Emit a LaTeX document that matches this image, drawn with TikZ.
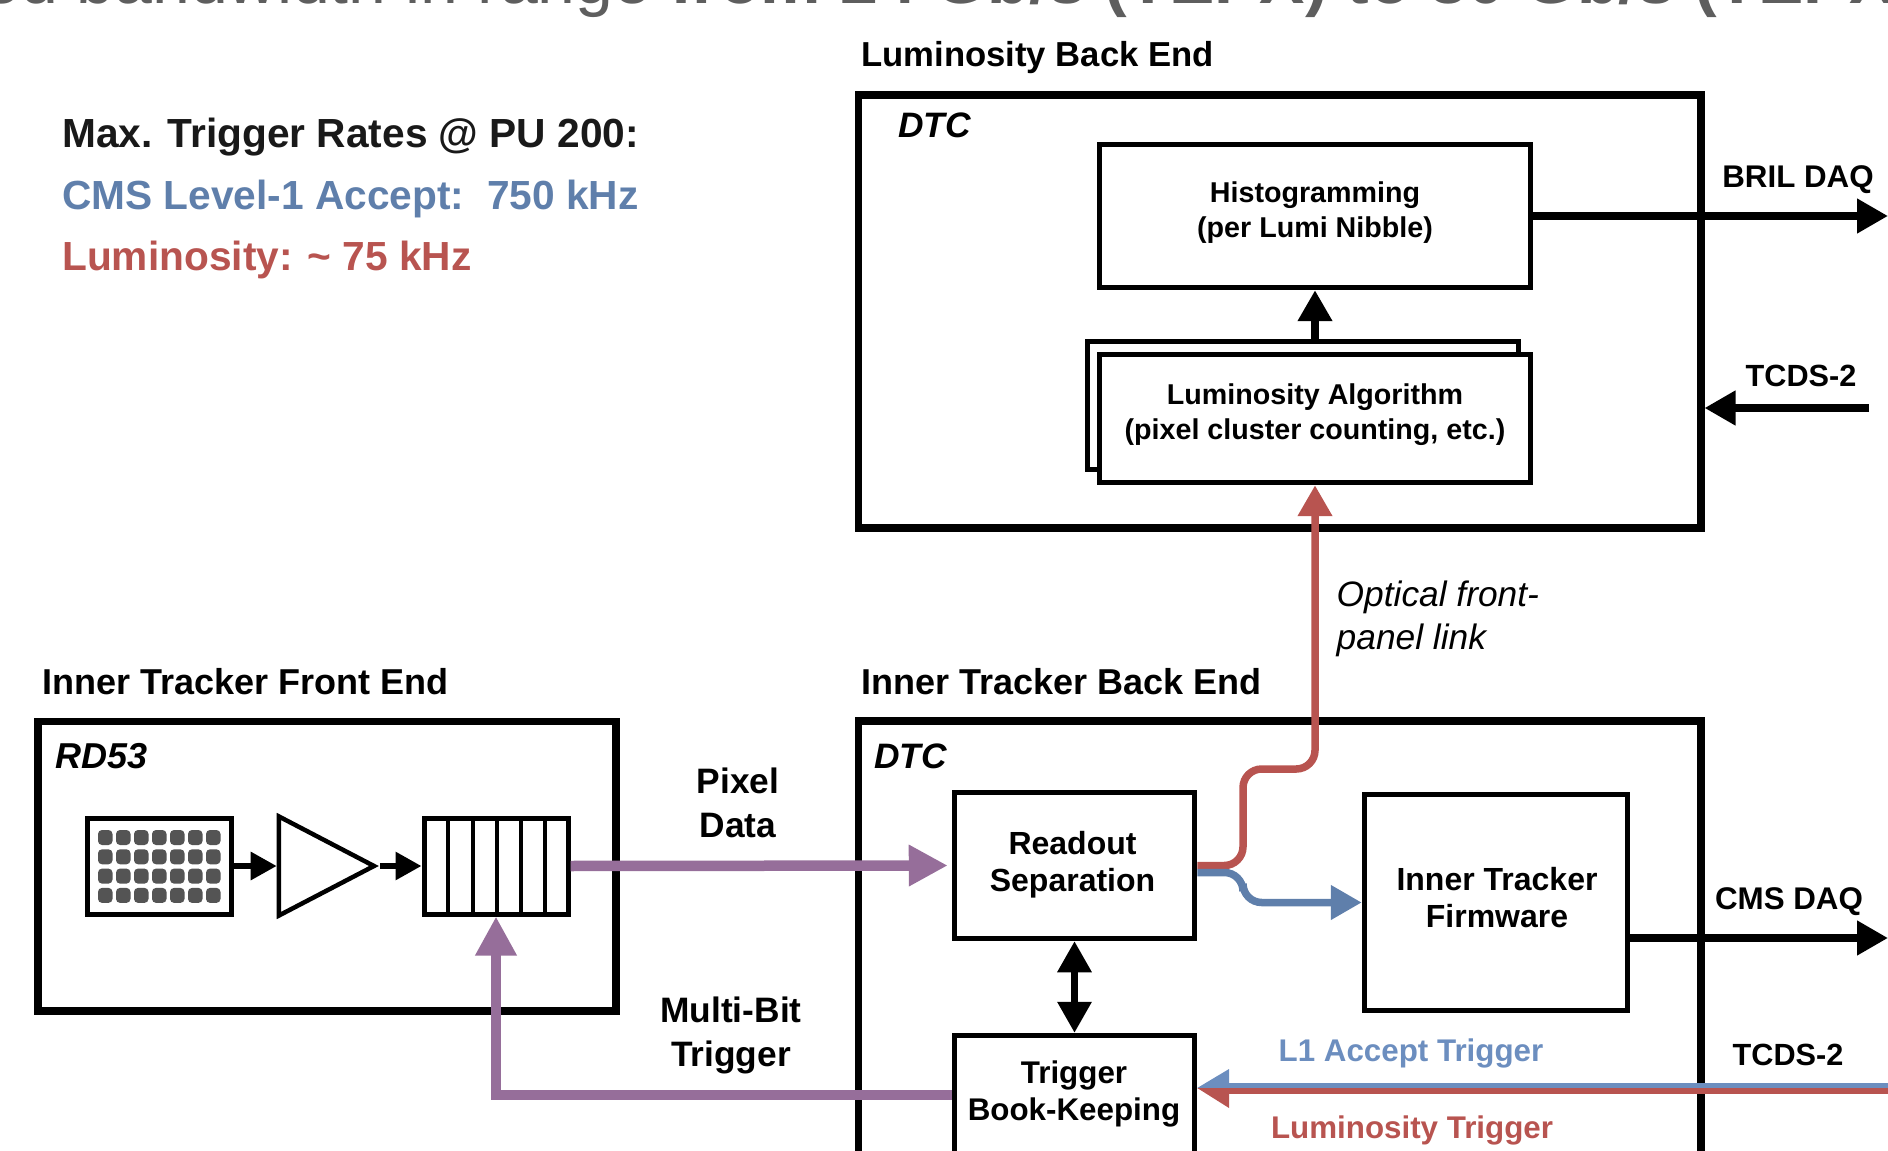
\documentclass[tikz,border=0pt]{standalone}
\usepackage{fontspec}
\setmainfont{Liberation Sans}
\usepackage{xcolor}
\definecolor{colPurple}{HTML}{966E9A}
\definecolor{colRed}{HTML}{B85450}
\definecolor{colBlue}{HTML}{5F7FAB}
\definecolor{colBlueLight}{HTML}{6C8EBF}
\definecolor{colGrey}{HTML}{5E5E5E}
\usetikzlibrary{arrows.meta, positioning, calc, shapes.geometric}
\newcommand{\px}{0.75pt}
\newcommand{\sized}[2]{\fontsize{#1}{#2}\selectfont}
\tikzset{
	crate/.style={draw, line width=7.5*\px, inner sep=0pt},
	modbox/.style={draw, line width=5.5*\px, inner sep=0pt, align=center, fill=white},
	chipbox/.style={draw, line width=5*\px, inner sep=0pt, minimum width=144*\px, minimum height=96*\px, fill=white},
	headlabel/.style={anchor=base west, inner sep=0pt, font=\sized{27}{30}\bfseries},
	sidelabel/.style={anchor=base west, inner sep=0pt, font=\sized{26.5}{30}\bfseries\itshape},
	linklabel/.style={align=center, font=\sized{26.5}{33}\bfseries},
	ratelabel/.style={anchor=base west, inner sep=0pt, font=\sized{30.5}{36}\bfseries},
	portlabel/.style={font=\sized{23.5}{28}\bfseries},
	tcdslabel/.style={font=\sized{23}{28}\bfseries},
	bigarr/.style={-{Triangle[length=23.25pt,width=24.75pt]}, line width=7.5*\px},
	smallarr/.style={-{Triangle[length=19.5pt,width=20.25pt]}, line width=6*\px},
	fatarr/.style={-{Triangle[length=29.25pt,width=29.25pt]}, line width=10.5*\px, colPurple},
}

\begin{document}
\begin{tikzpicture}[x=\px, y=-\px, >=Stealth]
	\clip (0,0) rectangle (1888,1151);

	% Cut-off title line
	\node[anchor=base west, inner sep=0pt, text=colGrey, font=\sized{51}{60}] (title) at (-18,4) {ed bandwidth in range \textbf{from 24 Gb/s (TEPX) to 80 Gb/s (TEPX)}};

	% Rates
	\node[ratelabel, text=black!90] (ratehead) at (62,148) {Max. Trigger Rates @ PU 200:};
	\node[ratelabel, text=colBlue] (ratel1) at (62,210) {CMS Level-1 Accept:\ \ 750 kHz};
	\node[ratelabel, text=colRed] (ratelumi) at (62,271) {Luminosity: \textasciitilde{} 75 kHz};

	% Luminosity back end
	\node[crate, minimum width=842.5*\px, minimum height=432.5*\px] (lumidtc) at (1279.5,311.5) {};
	\node[headlabel, font=\sized{26}{30}\bfseries] (lumihead) at (861,67) {Luminosity Back End};
	\node[sidelabel] (lumitag) at (898,138) {DTC};
	\node[modbox, minimum width=431*\px, minimum height=143*\px] (hist) at (1315,216) {};
	\node[font=\sized{21.5}{26.25}\bfseries, align=center] (histtext) at (1315,213) {Histogramming\\(per Lumi Nibble)};
	\node[modbox, minimum width=431*\px, minimum height=128*\px] (algoback) at (1303,405.5) {};
	\node[modbox, minimum width=431*\px, minimum height=128*\px] (algo) at (1315,418.5) {};
	\node[font=\sized{21.5}{26.25}\bfseries, align=center] (algotext) at (1315,414.5) {Luminosity Algorithm\\(pixel cluster counting, etc.)};
	\draw[bigarr] (hist.south |- algoback.north) -- (hist.south);
	\coordinate (brilout) at (1888,216);
	\draw[bigarr] (hist.east) -- (brilout);
	\node[portlabel] (brillabel) at (1798,179.5) {BRIL DAQ};
	\coordinate (lumitcds) at (1869,408);
	\draw[bigarr] (lumitcds) -- (lumidtc.east |- lumitcds);
	\node[tcdslabel] (lumitcdslabel) at (1801,376) {TCDS-2};

	% Inner tracker front end
	\node[crate, minimum width=578*\px, minimum height=289.5*\px] (rd53) at (327,866) {};
	\node[headlabel] (fronthead) at (42,694) {Inner Tracker Front End};
	\node[sidelabel, font=\sized{27}{30}\bfseries\itshape] (frontag) at (55,768) {RD53};
	\node[chipbox] (matrix) at (159,866) {};
	\foreach \col in {0,...,6} {
		\foreach \row in {0,...,3} {
			\fill[black!67, rounded corners=3pt] ({98+18*\col},{830+19.3*\row}) rectangle ++(14.5,15);
		}
	}
	\node[draw, line width=4.5*\px, isosceles triangle, isosceles triangle stretches, inner sep=0pt, minimum width=99*\px, minimum height=95*\px, anchor=center] (amp) at (309,866) {};
	\node[chipbox] (fifo) at (496,866) {};
	\foreach \xdiv in {448,473,497,521,545} {
		\draw[line width=4*\px] (\xdiv,818) -- (\xdiv,914);
	}
	\draw[smallarr] (matrix.east) -- (amp.west);
	\draw[smallarr] (amp.east) -- (fifo.west);

	% Inner tracker back end
	\node[crate, minimum width=842.5*\px, minimum height=700*\px] (itdtc) at (1279.5,1071) {};
	\node[headlabel] (backhead) at (861,694) {Inner Tracker Back End};
	\node[sidelabel] (backtag) at (874,768) {DTC};
	\node[modbox, minimum width=240*\px, minimum height=146*\px] (readout) at (1074.5,865.5) {};
	\node[font=\sized{24}{27.75}\bfseries, align=center] (readouttext) at (1072.5,864.5) {Readout\\Separation};
	\node[modbox, minimum width=263*\px, minimum height=216*\px] (firmware) at (1496,902.5) {};
	\node[font=\sized{24}{27.75}\bfseries, align=center] (firmwaretext) at (1497,897.5) {Inner Tracker\\Firmware};
	\node[modbox, minimum width=240*\px, minimum height=200*\px] (trigbox) at (1074.5,1135.5) {};
	\node[font=\sized{23.5}{27.75}\bfseries, align=center] (trigtext) at (1074,1093.5) {Trigger\\Book-Keeping};
	\draw[{Triangle[length=23.25pt,width=24.75pt]}-{Triangle[length=23.25pt,width=24.75pt]}, line width=6.5*\px] (readout.south) -- (trigbox.north);
	\coordinate (cmsout) at (1888,938);
	\draw[bigarr] (firmware.east |- cmsout) -- (cmsout);
	\node[portlabel] (cmslabel) at (1789,901.5) {CMS DAQ};
	\node[tcdslabel] (ittcdslabel) at (1788,1055) {TCDS-2};

	% Pixel data and multi-bit trigger
	\draw[fatarr, shorten >=3pt] (fifo.east) -- (readout.west);
	\node[linklabel] (pixellabel) at (738,803) {Pixel\\Data};
	\draw[fatarr] (trigbox.west |- 0,1095) -| (fifo.south);
	\node[linklabel] (multilabel) at (731,1035.5) {Multi-Bit\\Trigger};

	% Optical link to the luminosity back end
	\coordinate (redbend) at (1243,769);
	\draw[bigarr, colRed, rounded corners=14pt] (readout.east) -| (redbend) -| (algo.south);
	\node[anchor=west, align=left, font=\sized{26.5}{32.25}\itshape] (optlabel) at (1332,618.5) {Optical front-\\panel link};

	% Split towards the firmware
	\coordinate (blueout) at ($(readout.east)+(0,7)$);
	\coordinate (bluebend) at (1243,902.5);
	\draw[bigarr, colBlue, rounded corners=14pt] (blueout) -| (bluebend) -- (firmware.west);

	% Trigger lines coming in from TCDS
	\coordinate (bluein) at (1888,1085.5);
	\coordinate (redin) at (1888,1091);
	\coordinate (trigtip) at (trigbox.east |- 0,1088);
	\draw[line width=6*\px, colBlueLight] (bluein) -- (1228,1085.5);
	\draw[line width=6*\px, colRed] (redin) -- (1228,1091);
	\fill[colBlueLight] (trigtip) -- (1229,1069) -- (1229,1088) -- cycle;
	\fill[colRed] (trigtip) -- (1229,1108) -- (1229,1088) -- cycle;
	\node[portlabel, text=colBlueLight] (l1label) at (1411,1053.5) {L1 Accept Trigger};
	\node[portlabel, text=colRed] (lumitriglabel) at (1412,1130.5) {Luminosity Trigger};
\end{tikzpicture}
\end{document}
